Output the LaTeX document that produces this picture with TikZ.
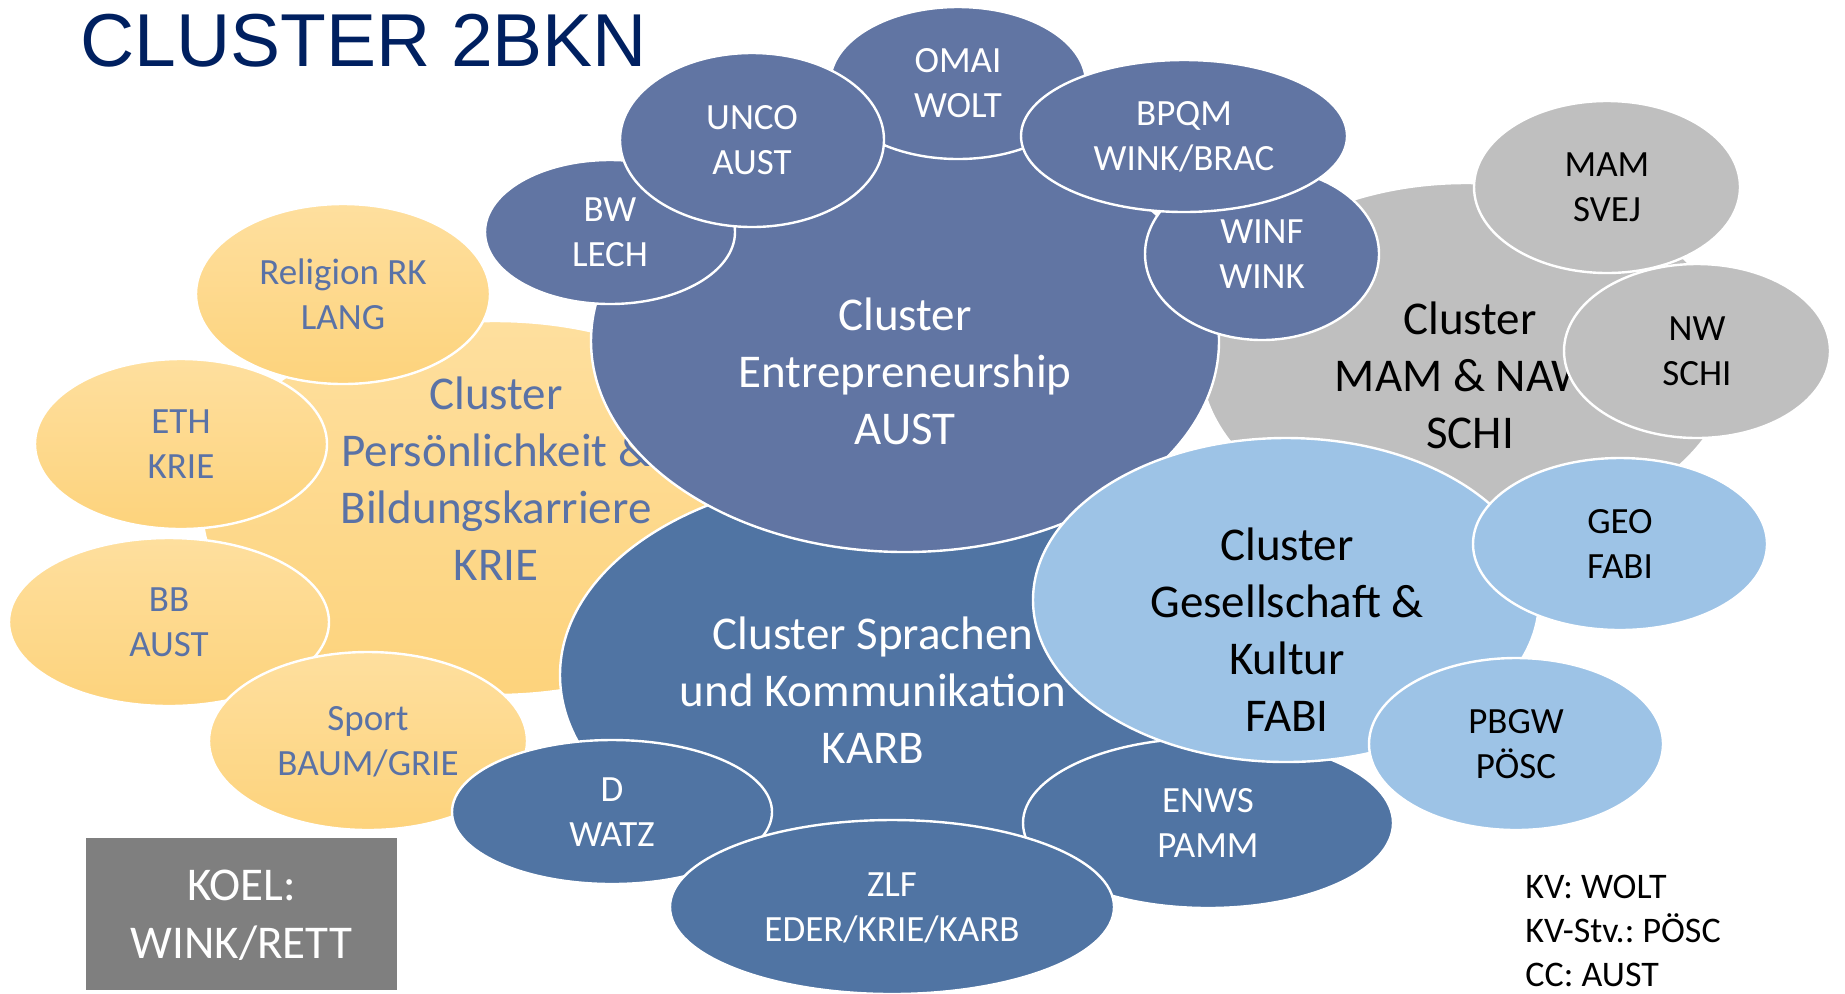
\documentclass[tikz,border=0pt]{standalone}
\usepackage{fontspec}
\setmainfont{Carlito}
\newfontfamily\headfont{Liberation Sans}
\usetikzlibrary{shapes.geometric}
\definecolor{entblue}{RGB}{97,117,163}
\definecolor{sprblue}{RGB}{80,116,163}
\definecolor{gesblue}{RGB}{157,195,230}
\definecolor{mamgray}{RGB}{191,191,191}
\definecolor{boxgray}{RGB}{127,127,127}
\definecolor{goldtop}{RGB}{254,223,158}
\definecolor{goldbot}{RGB}{253,211,124}
\definecolor{goldtext}{RGB}{90,114,166}
\definecolor{headnavy}{RGB}{0,32,96}
\frenchspacing

\begin{document}
\begin{tikzpicture}[x=0.5pt,y=-0.5pt,
        bub/.style={ellipse,draw=white,line width=1.2pt,inner sep=0pt,align=center},
        bigtxt/.style={font=\fontsize{23.5}{28.5}\selectfont,align=center},
        smalltxt/.style={font=\fontsize{18.5}{22.5}\selectfont,text depth=0pt},
        gold/.style={bub,top color=goldtop,bottom color=goldbot,text=goldtext,smalltxt},
        ent/.style={bub,fill=entblue,text=white,smalltxt},
        spr/.style={bub,fill=sprblue,text=white,smalltxt},
        mam/.style={bub,fill=mamgray,text=black,smalltxt},
        ges/.style={bub,fill=gesblue,text=black,smalltxt}]
            \useasboundingbox (0,0) rectangle (1845,993);

            % big clusters
            \node[gold,minimum width=293pt,minimum height=187pt] (pers) at (495,508) {};
            \node[bigtxt,text=goldtext] (pers-txt) at (496,479) {Cluster\\Persönlichkeit \&\\Bildungskarriere\\KRIE};
            \node[mam,minimum width=266pt,minimum height=177pt] (mint) at (1466,360) {};
            \node[bigtxt] (mint-txt) at (1470,375) {Cluster\\MAM \& NAWI\\SCHI};
            \node[spr,minimum width=314pt,minimum height=200pt] (spra) at (874,675) {};
            \node[bigtxt,text=white] (spra-txt) at (873,690) {Cluster Sprachen\\und Kommunikation\\KARB};
            \node[ent,minimum width=314pt,minimum height=211pt] (entr) at (905,341) {};
            \node[bigtxt,text=white] (entr-txt) at (905,371) {Cluster\\Entrepreneurship\\AUST};
            \node[spr,minimum width=185pt,minimum height=85pt] (enws) at (1208,823) {ENWS\\PAMM};
            \node[ges,minimum width=253pt,minimum height=162pt] (gese) at (1286,600) {};
            \node[bigtxt] (gese-txt) at (1287,630) {Cluster\\Gesellschaft \&\\Kultur\\FABI};

            % subjects
            \node[gold,minimum width=147pt,minimum height=90pt] (rel) at (343,294) {Religion RK\\LANG};
            \node[gold,minimum width=146pt,minimum height=85pt] (eth) at (181,444) {ETH\\KRIE};
            \node[gold,minimum width=160pt,minimum height=84pt] (bb) at (169,622) {BB\\AUST};
            \node[gold,minimum width=159pt,minimum height=89pt] (sport) at (368,741) {Sport\\BAUM/GRIE};
            \node[ent,minimum width=125pt,minimum height=72pt] (bw) at (610,232) {BW\\LECH};
            \node[ent,minimum width=128pt,minimum height=76pt] (omai) at (958,83) {OMAI\\WOLT};
            \node[ent,minimum width=132pt,minimum height=87pt] (unco) at (752,140) {UNCO\\AUST};
            \node[ent,minimum width=117pt,minimum height=86pt] (winf) at (1262,254) {WINF\\WINK};
            \node[ent,minimum width=163pt,minimum height=76pt] (bpqm) at (1184,136) {BPQM\\WINK/BRAC};
            \node[mam,minimum width=133pt,minimum height=86pt] (mamsv) at (1607,187) {MAM\\SVEJ};
            \node[mam,minimum width=133pt,minimum height=87pt] (nw) at (1697,351) {NW\\SCHI};
            \node[ges,minimum width=147pt,minimum height=86pt] (geo) at (1620,544) {GEO\\FABI};
            \node[ges,minimum width=147pt,minimum height=86pt] (pbgw) at (1516,744) {PBGW\\PÖSC};
            \node[spr,minimum width=160pt,minimum height=72pt] (d) at (612,812) {D\\WATZ};
            \node[spr,minimum width=222pt,minimum height=87pt] (zlf) at (892,907) {ZLF\\EDER/KRIE/KARB};

            % box, roles, title
            \node[fill=boxgray,text=white,minimum width=155.5pt,minimum height=76pt,align=center,
                text depth=0pt,font=\fontsize{23.5}{29}\selectfont] (koel) at (241.5,914) {KOEL:\\WINK/RETT};
            \node[anchor=north west,inner sep=0pt,align=left,font=\fontsize{18}{22}\selectfont] (roles)
                at (1525,875) {KV: WOLT\\KV-Stv.: PÖSC\\CC: AUST};
            \node[anchor=base west,inner sep=0pt,text=headnavy,font=\headfont\fontsize{37.5}{45}\selectfont]
                (head) at (80,66) {CLUSTER 2BKN};
        \end{tikzpicture}
\end{document}
